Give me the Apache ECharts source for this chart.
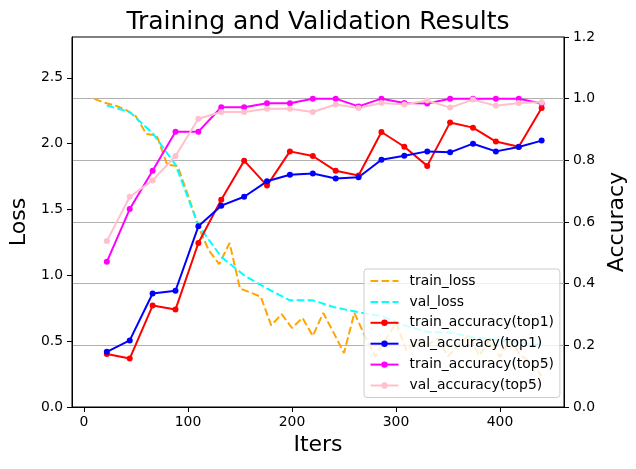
<!DOCTYPE html>
<html><head><meta charset="utf-8">
<script src="https://cdn.jsdelivr.net/npm/echarts@6/dist/echarts.min.js"></script>
<style>html,body{margin:0;padding:0;background:#fff}#c{width:636px;height:469px}</style>
</head><body><div id="c"></div>
<script>
const lossIters = [10,20,30,40,50,60,70,80,90,100,110,120,130,140,150,160,170,180,190,200,210,220,230,240,250,260,270,280,290,300,310,320,330,340,350,360,370,380,390,400,410,420,430,440];
const trainLoss = [2.34,2.31,2.29,2.258,2.207,2.073,2.062,1.84,1.83,1.61,1.37,1.19,1.085,1.245,0.90,0.87,0.837,0.62,0.705,0.60,0.677,0.54,0.715,0.565,0.41,0.715,0.54,0.385,0.51,0.64,0.43,0.51,0.47,0.52,0.385,0.47,0.545,0.39,0.51,0.38,0.51,0.39,0.34,0.235];
const epochIters = [22,44,66,88,110,132,154,176,198,220,242,264,286,308,330,352,374,396,418,440];
const valLoss = [2.29,2.24,2.08,1.84,1.38,1.14,1.00,0.90,0.81,0.81,0.755,0.72,0.69,0.62,0.57,0.565,0.53,0.51,0.49,0.47];
const trainAccTop1 = [0.172,0.157,0.329,0.316,0.532,0.672,0.799,0.718,0.829,0.814,0.766,0.751,0.892,0.844,0.782,0.923,0.906,0.861,0.844,0.970];
const valAccTop1 = [0.179,0.216,0.368,0.377,0.586,0.653,0.682,0.732,0.753,0.757,0.741,0.745,0.802,0.815,0.829,0.826,0.854,0.829,0.843,0.864];
const trainAccTop5 = [0.471,0.642,0.766,0.893,0.893,0.972,0.972,0.985,0.985,1.0,1.0,0.975,1.0,0.986,0.984,1.0,1.0,1.0,1.0,0.984];
const valAccTop5 = [0.538,0.682,0.735,0.814,0.935,0.957,0.957,0.967,0.967,0.957,0.981,0.970,0.986,0.981,0.994,0.971,0.997,0.977,0.986,0.988];
const xTicks = [0,100,200,300,400];
const lossTicks = [0,0.5,1.0,1.5,2.0,2.5];
const accTicks = [0,0.2,0.4,0.6,0.8,1.0,1.2];

const F = 'DejaVu Sans';
const pair = (xs, ys) => xs.map((x, i) => [x, ys[i]]);
const chart = echarts.init(document.getElementById('c'), null, {renderer: 'canvas'});
const dash = [7.7, 3.3];
function lineSeries(name, xs, ys, color, yIdx, dashed) {
  return {
    name, type: 'line', xAxisIndex: 0, yAxisIndex: yIdx,
    data: pair(xs, ys),
    symbol: dashed ? 'none' : 'circle', symbolSize: 6, showSymbol: !dashed,
    lineStyle: {color, width: 2, type: dashed ? dash : 'solid'},
    itemStyle: {color},
    z: yIdx === 0 ? 2 : 3,
    animation: false
  };
}
const legendNames = ['train_loss','val_loss','train_accuracy(top1)','val_accuracy(top1)','train_accuracy(top5)','val_accuracy(top5)'];
chart.setOption({
  animation: false,
  title: {
    text: 'Training and Validation Results', left: 'center', top: 5,
    textStyle: {fontFamily: F, fontSize: 25, fontWeight: 'normal', color: '#000'}
  },
  grid: {left: 70, right: 70, top: 37, bottom: 62, show: true, borderColor: '#000', borderWidth: 1, containLabel: false},
  legend: {
    orient: 'vertical', left: 364, top: 269,
    padding: [4, 6, 4, 5.5],
    itemWidth: 28, itemHeight: 8, itemGap: 4.9,
    backgroundColor: 'rgba(255,255,255,0.8)', borderColor: '#cccccc', borderWidth: 1, borderRadius: 3,
    textStyle: {fontFamily: F, fontSize: 13.9, color: '#000', lineHeight: 16, padding: [0, 0, 0, 6]},
    data: legendNames.map((n, i) => i < 2 ? {name: n, itemStyle: {opacity: 0}} : {name: n})
  },
  xAxis: {
    type: 'value', min: -11.5, max: 461.5,
    name: 'Iters', nameLocation: 'middle', nameGap: 26,
    nameTextStyle: {fontFamily: F, fontSize: 22, color: '#000'},
    axisLine: {show: true, onZero: false, lineStyle: {color: '#000', width: 1}},
    axisTick: {show: true, length: 5, lineStyle: {color: '#000'}, customValues: xTicks},
    axisLabel: {fontFamily: F, fontSize: 13.9, color: '#000', margin: 8, customValues: xTicks},
    splitLine: {show: false}
  },
  yAxis: [
    {
      type: 'value', min: 0, max: 2.81, position: 'left',
      name: 'Loss', nameLocation: 'middle', nameGap: 37, nameRotate: 90,
      nameTextStyle: {fontFamily: F, fontSize: 22, color: '#000'},
      axisLine: {show: true, onZero: false, lineStyle: {color: '#000', width: 1}},
      axisTick: {show: true, length: 5, lineStyle: {color: '#000'}, customValues: lossTicks},
      axisLabel: {fontFamily: F, fontSize: 13.9, color: '#000', margin: 9, customValues: lossTicks, formatter: v => v.toFixed(1)},
      splitLine: {show: false}
    },
    {
      type: 'value', min: 0, max: 1.2, interval: 0.2, position: 'right',
      name: 'Accuracy', nameLocation: 'middle', nameGap: 37, nameRotate: 90,
      nameTextStyle: {fontFamily: F, fontSize: 22, color: '#000'},
      axisLine: {show: true, onZero: false, lineStyle: {color: '#000', width: 1}},
      axisTick: {show: true, length: 5, lineStyle: {color: '#000'}, customValues: accTicks},
      axisLabel: {fontFamily: F, fontSize: 13.9, color: '#000', margin: 9, customValues: accTicks, formatter: v => v.toFixed(1)},
      splitLine: {show: true, showMinLine: false, showMaxLine: false, lineStyle: {color: '#b0b0b0', width: 1}}
    }
  ],
  series: [
    lineSeries('train_loss', lossIters, trainLoss, '#FFA500', 0, true),
    lineSeries('val_loss', epochIters, valLoss, '#00FFFF', 0, true),
    lineSeries('train_accuracy(top1)', epochIters, trainAccTop1, '#FF0000', 1, false),
    lineSeries('val_accuracy(top1)', epochIters, valAccTop1, '#0000FF', 1, false),
    lineSeries('train_accuracy(top5)', epochIters, trainAccTop5, '#FF00FF', 1, false),
    lineSeries('val_accuracy(top5)', epochIters, valAccTop5, '#FFC0CB', 1, false)
  ]
});
</script></body></html>
